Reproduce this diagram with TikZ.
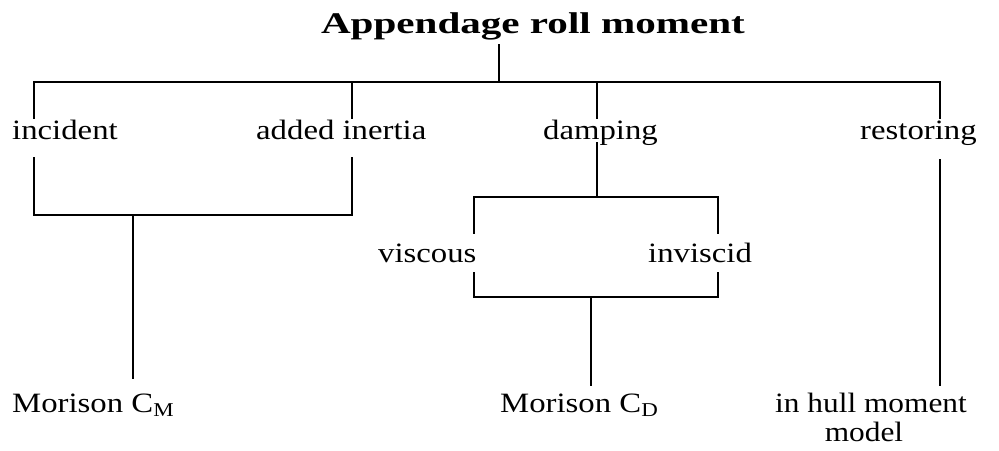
\documentclass[tikz,border=0pt]{standalone}
\usepackage{fontspec}
\usepackage{graphicx}
\setmainfont{Liberation Serif}
\begin{document}
\begin{tikzpicture}[x=1pt,y=-1pt,
  conn/.style={line width=2pt, line cap=rect},
  lbl/.style={inner sep=0pt, anchor=base west, font=\fontsize{28}{30}\selectfont},
  ttl/.style={inner sep=0pt, anchor=base, font=\bfseries\fontsize{30}{34}\selectfont}]
\useasboundingbox (0,0) rectangle (999,450);
% labels
\node[ttl] (title) at (533,33) {\scalebox{1.37}[1]{Appendage roll moment}};
\node[lbl] (incident) at (12,139) {\scalebox{1.17}[1]{incident}};
\node[lbl] (added) at (256,139) {\scalebox{1.17}[1]{added inertia}};
\node[lbl] (damping) at (543,139) {\scalebox{1.17}[1]{damping}};
\node[lbl] (restoring) at (860,139) {\scalebox{1.17}[1]{restoring}};
\node[lbl] (viscous) at (378,262) {\scalebox{1.17}[1]{viscous}};
\node[lbl] (inviscid) at (648,262) {\scalebox{1.17}[1]{inviscid}};
\node[lbl] (cm) at (12,412) {\scalebox{1.17}[1]{Morison C\textsubscript{M}}};
\node[lbl] (cd) at (500,412) {\scalebox{1.17}[1]{Morison C\textsubscript{D}}};
\node[lbl] (hull) at (775,412) {\scalebox{1.12}[1]{in hull moment}};
\node[lbl, anchor=base] (model) at (864,441) {\scalebox{1.12}[1]{model}};
% junction coordinates
\coordinate (t0) at (499,45);
\coordinate (t1) at (499,82);
\coordinate (hl) at (34,82);
\coordinate (hr) at (940,82);
\coordinate (aiTop) at (352,82);
\coordinate (dpTop) at (597,82);
\coordinate (inA) at (34,118);
\coordinate (adA) at (352,118);
\coordinate (dpA) at (597,118);
\coordinate (rsA) at (940,118);
\coordinate (inB) at (34,158);
\coordinate (adB) at (352,158);
\coordinate (j1l) at (34,215);
\coordinate (j1r) at (352,215);
\coordinate (j1m) at (133,215);
\coordinate (cmT) at (133,378);
\coordinate (dpB) at (597,143);
\coordinate (dpJ) at (597,197);
\coordinate (vsT) at (474,197);
\coordinate (ivT) at (718,197);
\coordinate (vsA) at (474,233);
\coordinate (ivA) at (718,233);
\coordinate (vsB) at (474,273);
\coordinate (ivB) at (718,273);
\coordinate (j2l) at (474,297);
\coordinate (j2r) at (718,297);
\coordinate (j2m) at (591,297);
\coordinate (cdT) at (591,385);
\coordinate (rsB) at (940,160);
\coordinate (hullT) at (940,385);
% connectors
\draw[conn] (t0) -- (t1);
\draw[conn] (hl) -- (hr);
\draw[conn] (hl) -- (inA);
\draw[conn] (aiTop) -- (adA);
\draw[conn] (dpTop) -- (dpA);
\draw[conn] (hr) -- (rsA);
\draw[conn] (inB) -- (j1l) -- (j1r) -- (adB);
\draw[conn] (j1m) -- (cmT);
\draw[conn] (dpB) -- (dpJ);
\draw[conn] (vsA) -- (vsT) -- (ivT) -- (ivA);
\draw[conn] (vsB) -- (j2l) -- (j2r) -- (ivB);
\draw[conn] (j2m) -- (cdT);
\draw[conn] (rsB) -- (hullT);
\end{tikzpicture}
\end{document}
